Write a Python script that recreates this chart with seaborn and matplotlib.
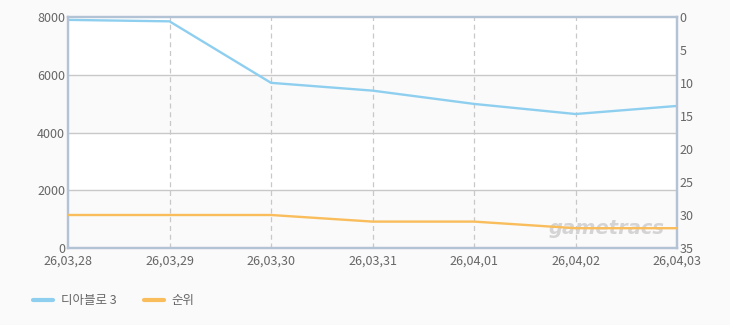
import matplotlib
matplotlib.use("Agg")
import matplotlib.pyplot as plt
import seaborn as sns
import pandas as pd

dates = ["26,03,28", "26,03,29", "26,03,30", "26,03,31", "26,04,01", "26,04,02", "26,04,03"]
values = [7900, 7850, 5720, 5450, 4990, 4640, 4920]
ranks = [30, 30, 30, 31, 31, 32, 32]
left_ticks = [0, 2000, 4000, 6000, 8000]
right_ticks = [0, 5, 10, 15, 20, 25, 30, 35]
series_names = ["디아블로 3", "순위"]

sns.set_theme(style="white")
plt.rcParams['font.family'] = ['Noto Sans CJK KR', 'DejaVu Sans']

BG = "#fafafa"
SPINE = "#b3c3d6"
TXT = "#666666"
BLUE = "#8ecff0"
ORANGE = "#f9bd5c"

df = pd.DataFrame({"x": range(len(dates)), "value": values, "rank": ranks})

fig = plt.figure(figsize=(7.3, 3.25), dpi=100, facecolor=BG)
ax = fig.add_axes([68/730, 1-248/325, (677-68)/730, (248-17)/325])
ax.set_facecolor("white")

# alternating bands
for i in range(len(left_ticks)-1):
    if i % 2 == 0:
        ax.axhspan(left_ticks[i], left_ticks[i+1], color=BG, zorder=0, lw=0)

sns.lineplot(data=df, x="x", y="value", ax=ax, color=BLUE, lw=1.7, zorder=3)
ax.set_ylim(0, 8000)
ax.set_xlim(0, len(dates)-1)
ax.set_yticks(left_ticks)
ax.set_xticks(range(len(dates)))
ax.set_xticklabels(dates)
ax.set_xlabel("")
ax.set_ylabel("")
for y in left_ticks[1:-1]:
    ax.axhline(y, color="#c8c8c8", lw=1, zorder=1)
for x in range(1, len(dates)-1):
    ax.axvline(x, color="#c8c8c8", lw=0.9, ls=(0, (4, 3)), zorder=1)

ax2 = ax.twinx()
sns.lineplot(data=df, x="x", y="rank", ax=ax2, color=ORANGE, lw=1.7, zorder=3)
ax2.set_ylim(35, 0)
ax2.set_yticks(right_ticks)
ax2.set_ylabel("")
ax2.set_xlim(0, len(dates)-1)

for a in (ax, ax2):
    for s in a.spines.values():
        s.set_color(SPINE)
        s.set_linewidth(1.6)
    a.tick_params(length=0, labelsize=9, colors=TXT, pad=2)
ax.tick_params(axis="x", pad=5)

ax.text((665-68)/609, 0.085, "gametracs", transform=ax.transAxes, ha="right", va="center",
        fontsize=14, fontstyle="italic", fontweight="bold", color="#d4d4d4",
        family="DejaVu Sans", zorder=2)

handles = [plt.Line2D([], [], color=BLUE, lw=3), plt.Line2D([], [], color=ORANGE, lw=3)]
fig.legend(handles, series_names, loc="center left", bbox_to_anchor=(0.03, 0.075),
           ncol=2, frameon=False, fontsize=9, labelcolor=TXT, handlelength=1.6,
           handletextpad=0.6, columnspacing=2.2)

fig.savefig("out.png", dpi=100, facecolor=BG)
